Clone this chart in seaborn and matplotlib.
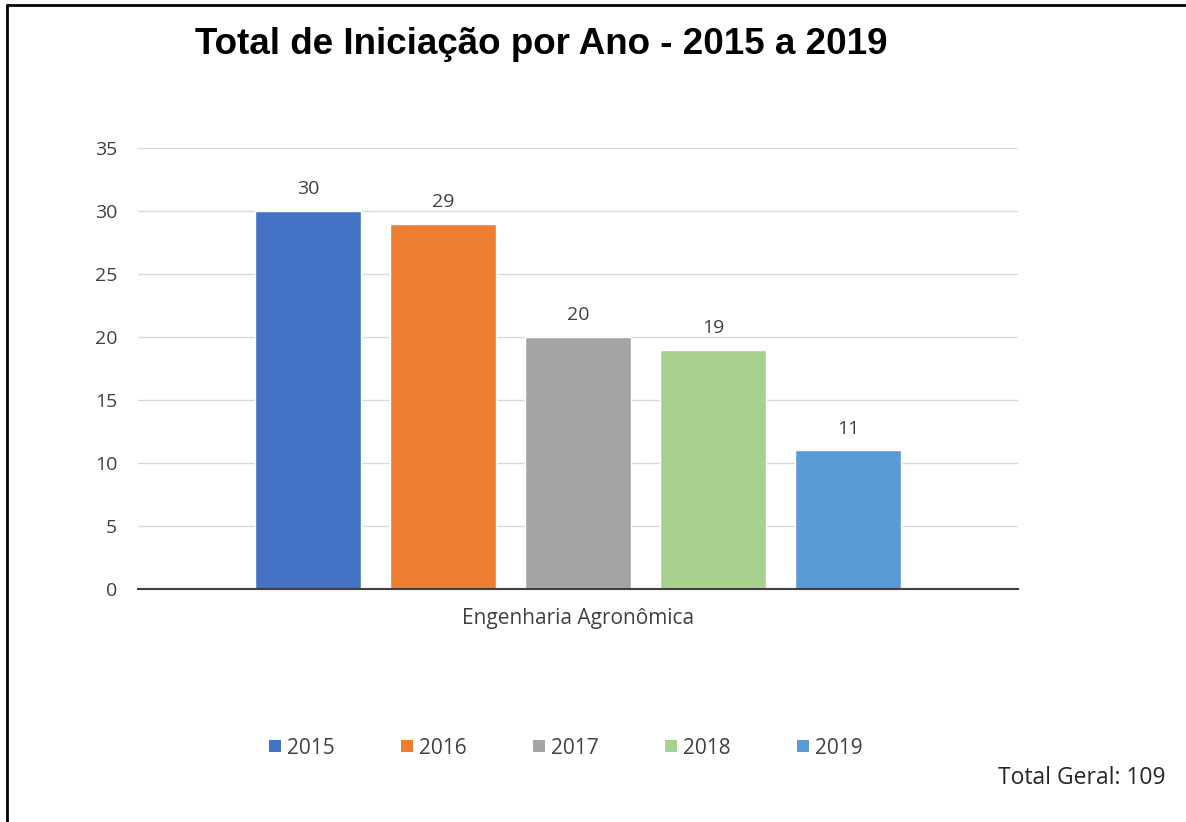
import matplotlib
matplotlib.use("Agg")
import matplotlib.pyplot as plt
import seaborn as sns
import pandas as pd
from matplotlib.lines import Line2D
from matplotlib.patches import Patch

categories = ["Engenharia Agronômica"]
years = ["2015", "2016", "2017", "2018", "2019"]
values = [30, 29, 20, 19, 11]
colors = ["#4472C4", "#ED7D31", "#A5A5A5", "#A9D18E", "#5B9BD5"]
total_label = "Total Geral: 109"
title = "Total de Iniciação por Ano - 2015 a 2019"
yticks = [0, 5, 10, 15, 20, 25, 30, 35]

sns.set_theme(style="white")
plt.rcParams['font.family'] = ['Open Sans', 'DejaVu Sans']

df = pd.DataFrame({"cat": categories * len(years), "ano": years, "valor": values})

fig = plt.figure(figsize=(11.86, 8.22), dpi=100)
ax = fig.add_axes([138/1186, 1-589/822, (1018-138)/1186, (589-148)/822])

sns.barplot(data=df, x="cat", y="valor", hue="ano", palette=colors, ax=ax,
            width=0.767, gap=0.22, legend=False, saturation=1)

ax.set_xlim(-0.5, 0.5)
ax.set_ylim(0, 35)
ax.set_yticks(yticks)
ax.yaxis.grid(True, color="#D9D9D9", linewidth=1)
ax.set_axisbelow(True)
for s in ["top", "right", "left"]:
    ax.spines[s].set_visible(False)
ax.spines["bottom"].set_color("#404040")
ax.spines["bottom"].set_linewidth(1.5)
ax.set_xlabel("")
ax.set_ylabel("")
ax.tick_params(axis="y", length=0, labelsize=14, labelcolor="#404040", pad=15)
ax.tick_params(axis="x", length=0, labelsize=15, labelcolor="#404040", pad=14)

for c in ax.containers:
    ax.bar_label(c, fmt="%d", padding=9, fontsize=14, color="#404040")

fig.text(541/1186, 1-45/822, title, ha="center", va="center", fontsize=26.5,
         fontweight="bold", family=["Liberation Sans Narrow", "Liberation Sans", "DejaVu Sans"],
         color="black")

handles = [Patch(facecolor=c, edgecolor="none") for c in colors]
leg = fig.legend(handles, years, loc="center", bbox_to_anchor=(566/1186, 1-748/822),
                 ncol=5, frameon=False, fontsize=15, handlelength=0.55, handleheight=0.55,
                 handletextpad=0.3, columnspacing=3.2)
for t in leg.get_texts():
    t.set_color("#404040")

fig.text(1165/1186, 1-778/822, total_label, ha="right", va="center", fontsize=16.5,
         color="#262626")

fig.add_artist(Line2D([7/1186, 7/1186], [0, 1-5/822], transform=fig.transFigure,
                      color="black", linewidth=2))
fig.add_artist(Line2D([7/1186, 1], [1-5/822, 1-5/822], transform=fig.transFigure,
                      color="black", linewidth=2))

fig.savefig("out.png", dpi=100, facecolor="white")
